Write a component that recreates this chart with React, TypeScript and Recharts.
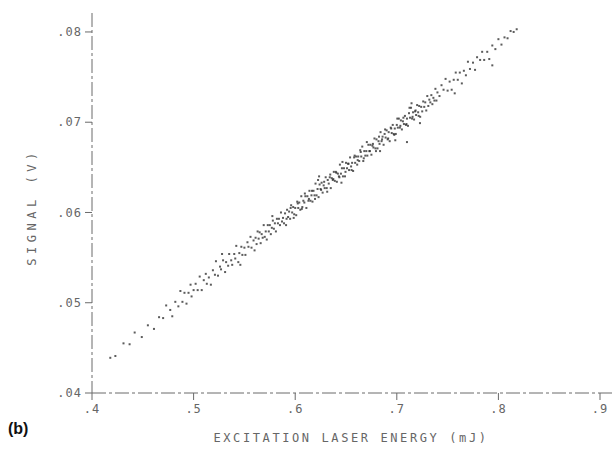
import React from 'react'
import { ScatterChart, Scatter, XAxis, YAxis } from 'recharts'

type Pt = [number, number]

const X_TICKS = [0.4, 0.5, 0.6, 0.7, 0.8, 0.9]
const Y_TICKS = [0.04, 0.05, 0.06, 0.07, 0.08]

// lower tail, energy below .50 mJ
const lowTail: Pt[] = [
  [0.418, 0.0439], [0.423, 0.0441], [0.431, 0.0455], [0.437, 0.0454], [0.442, 0.0467],
  [0.449, 0.0462], [0.455, 0.0475], [0.461, 0.0471], [0.466, 0.0484], [0.470, 0.0483],
  [0.473, 0.0497], [0.477, 0.0492], [0.479, 0.0485], [0.482, 0.0501], [0.485, 0.0496],
  [0.487, 0.0513], [0.489, 0.0501], [0.491, 0.0511], [0.493, 0.0499], [0.495, 0.0511],
  [0.497, 0.0520], [0.498, 0.0507], [0.500, 0.0514],
]

const lowerBand: Pt[] = [
  [0.502, 0.0521], [0.504, 0.0514], [0.506, 0.0529], [0.508, 0.0514], [0.510, 0.0525],
  [0.512, 0.0532], [0.513, 0.0521], [0.515, 0.0528], [0.517, 0.0520], [0.519, 0.0536],
  [0.521, 0.0531], [0.522, 0.0546], [0.524, 0.0530], [0.526, 0.0540], [0.527, 0.0537],
  [0.529, 0.0547], [0.531, 0.0534], [0.532, 0.0545], [0.534, 0.0541], [0.535, 0.0554],
  [0.537, 0.0547], [0.538, 0.0542], [0.540, 0.0554], [0.541, 0.0549], [0.542, 0.0563],
  [0.544, 0.0545], [0.545, 0.0555], [0.547, 0.0562], [0.548, 0.0553], [0.550, 0.0561],
  [0.551, 0.0553], [0.553, 0.0567], [0.554, 0.0562], [0.556, 0.0573], [0.557, 0.0561],
  [0.559, 0.0569], [0.560, 0.0558], [0.546, 0.0542], [0.528, 0.0554],
]

const core: Pt[] = [
  [0.561, 0.0572], [0.562, 0.0565], [0.563, 0.0579], [0.564, 0.0571], [0.565, 0.0578],
  [0.566, 0.0566], [0.567, 0.0576], [0.568, 0.0572], [0.569, 0.0586], [0.570, 0.0573],
  [0.571, 0.0579], [0.572, 0.0570], [0.573, 0.0586], [0.574, 0.0579], [0.575, 0.0586],
  [0.576, 0.0576], [0.577, 0.0583], [0.578, 0.0591], [0.579, 0.0582], [0.580, 0.0588],
  [0.581, 0.0579], [0.582, 0.0593], [0.583, 0.0588], [0.584, 0.0593], [0.585, 0.0586],
  [0.586, 0.0600], [0.587, 0.0590], [0.588, 0.0594], [0.589, 0.0588], [0.590, 0.0599],
  [0.591, 0.0586], [0.592, 0.0603], [0.593, 0.0595], [0.594, 0.0601], [0.595, 0.0593],
  [0.596, 0.0608], [0.597, 0.0600], [0.598, 0.0606], [0.599, 0.0598], [0.600, 0.0605],
  [0.601, 0.0597], [0.602, 0.0612], [0.603, 0.0605], [0.604, 0.0611], [0.605, 0.0603],
  [0.606, 0.0618], [0.607, 0.0606], [0.608, 0.0613], [0.609, 0.0611], [0.610, 0.0618],
  [0.611, 0.0605], [0.612, 0.0618], [0.613, 0.0613], [0.614, 0.0624], [0.615, 0.0613],
  [0.616, 0.0619], [0.617, 0.0612], [0.618, 0.0624], [0.619, 0.0619], [0.620, 0.0632],
  [0.621, 0.0619], [0.622, 0.0626], [0.623, 0.0617], [0.624, 0.0631], [0.625, 0.0626],
  [0.626, 0.0633], [0.627, 0.0622], [0.628, 0.0630], [0.629, 0.0627], [0.630, 0.0639],
  [0.631, 0.0627], [0.632, 0.0636], [0.633, 0.0632], [0.634, 0.0639], [0.635, 0.0627],
  [0.636, 0.0638], [0.637, 0.0636], [0.638, 0.0645], [0.639, 0.0635], [0.640, 0.0645],
  [0.641, 0.0634], [0.642, 0.0643], [0.643, 0.0640], [0.644, 0.0653], [0.645, 0.0643],
  [0.646, 0.0649], [0.647, 0.0640], [0.648, 0.0649], [0.649, 0.0640], [0.650, 0.0655],
  [0.651, 0.0649], [0.652, 0.0654], [0.653, 0.0647], [0.654, 0.0661], [0.655, 0.0651],
  [0.656, 0.0655], [0.657, 0.0646], [0.658, 0.0661], [0.659, 0.0655], [0.660, 0.0662],
  [0.661, 0.0653], [0.662, 0.0662], [0.663, 0.0657], [0.664, 0.0669], [0.665, 0.0662],
  [0.666, 0.0673], [0.667, 0.0657], [0.668, 0.0668], [0.669, 0.0663], [0.670, 0.0668],
  [0.671, 0.0663], [0.672, 0.0675], [0.673, 0.0668], [0.674, 0.0675], [0.675, 0.0664],
  [0.676, 0.0674], [0.677, 0.0672], [0.678, 0.0682], [0.679, 0.0671], [0.680, 0.0681],
  [0.681, 0.0671], [0.682, 0.0679], [0.683, 0.0676], [0.684, 0.0689], [0.685, 0.0679],
  [0.686, 0.0684], [0.687, 0.0675], [0.688, 0.0687], [0.689, 0.0683], [0.690, 0.0691],
  [0.691, 0.0681], [0.692, 0.0689], [0.693, 0.0679], [0.694, 0.0694], [0.695, 0.0688],
  [0.696, 0.0697], [0.697, 0.0687], [0.698, 0.0693], [0.699, 0.0687], [0.700, 0.0697],
  [0.701, 0.0694], [0.702, 0.0704], [0.703, 0.0694], [0.704, 0.0702], [0.705, 0.0692],
  [0.706, 0.0701], [0.707, 0.0698], [0.708, 0.0707], [0.709, 0.0697], [0.710, 0.0704],
  [0.711, 0.0696], [0.712, 0.0710], [0.713, 0.0705], [0.714, 0.0716], [0.715, 0.0704],
  [0.716, 0.0711], [0.717, 0.0703], [0.718, 0.0712], [0.719, 0.0708], [0.720, 0.0719],
  [0.721, 0.0711], [0.722, 0.0718], [0.723, 0.0706], [0.724, 0.0717], [0.725, 0.0712],
  [0.726, 0.0723], [0.727, 0.0717], [0.728, 0.0722], [0.729, 0.0713], [0.730, 0.0729],
  [0.731, 0.0718], [0.732, 0.0725], [0.733, 0.0722], [0.734, 0.0730], [0.735, 0.0720],
  [0.736, 0.0727], [0.737, 0.0724], [0.738, 0.0737], [0.739, 0.0724], [0.740, 0.0733],
]

// extra readings in the densest part of the cloud
const coreExtra: Pt[] = [
  [0.5915, 0.0593], [0.5955, 0.0605], [0.5985, 0.0594], [0.6025, 0.0610], [0.6065, 0.0604],
  [0.6095, 0.0621], [0.6135, 0.0615], [0.6165, 0.0624], [0.6195, 0.0615], [0.6225, 0.0636],
  [0.6255, 0.0625], [0.6285, 0.0634], [0.6315, 0.0623], [0.6345, 0.0642], [0.6375, 0.0637],
  [0.6405, 0.0644], [0.6435, 0.0639], [0.6465, 0.0656], [0.6495, 0.0645], [0.6525, 0.0654],
  [0.6555, 0.0647], [0.6585, 0.0663], [0.6615, 0.0658], [0.6645, 0.0667], [0.6675, 0.0660],
  [0.6705, 0.0678], [0.6735, 0.0668], [0.6765, 0.0676], [0.6795, 0.0668], [0.6825, 0.0684],
  [0.6855, 0.0681], [0.6885, 0.0692], [0.6915, 0.0682], [0.6945, 0.0693], [0.6975, 0.0686],
  [0.7005, 0.0704], [0.7035, 0.0696], [0.7065, 0.0705], [0.7095, 0.0698], [0.7125, 0.0716],
  [0.7155, 0.0706], [0.7185, 0.0713], [0.7215, 0.0707], [0.5775, 0.0596], [0.6455, 0.0633],
  [0.6835, 0.0668], [0.7145, 0.0721], [0.6235, 0.0640], [0.6985, 0.0680], [0.710, 0.0678],
  [0.7228, 0.0699],
]

const topTail: Pt[] = [
  [0.742, 0.0729], [0.744, 0.0741], [0.746, 0.0736], [0.748, 0.0748], [0.750, 0.0735],
  [0.752, 0.0745], [0.754, 0.0736], [0.756, 0.0747], [0.758, 0.0755], [0.760, 0.0747],
  [0.762, 0.0755], [0.764, 0.0743], [0.766, 0.0757], [0.768, 0.0752], [0.770, 0.0767],
  [0.772, 0.0759], [0.775, 0.0766], [0.777, 0.0758], [0.779, 0.0772], [0.782, 0.0769],
  [0.784, 0.0778], [0.786, 0.0769], [0.789, 0.0778], [0.791, 0.0770], [0.794, 0.0785],
  [0.797, 0.0781], [0.800, 0.0792], [0.803, 0.0786], [0.806, 0.0794], [0.809, 0.0793],
  [0.812, 0.0801], [0.815, 0.0800], [0.818, 0.0803], [0.757, 0.0732], [0.794, 0.0763],
]

const points = [...lowTail, ...lowerBand, ...core, ...coreExtra, ...topTail].map(([x, y]) => ({ x, y }))

const INK = '#6a6a6a'
const MONO = '"DejaVu Sans Mono", monospace'

const Speck = (props: any) => {
  const { cx, cy } = props
  if (cx == null || cy == null) return null
  return <rect x={cx - 1} y={cy - 1} width={2} height={2} fill="#333" fillOpacity={0.8} />
}

export default function App() {
  return (
    <div style={{ position: 'absolute', left: 0, top: 0, width: 612, height: 454, background: '#fff' }}>
      <ScatterChart width={612} height={454} margin={{ top: 13, right: 0, bottom: 31, left: 32 }}>
        <XAxis
          type="number"
          dataKey="x"
          domain={[0.4, 0.9118]}
          ticks={X_TICKS}
          tickFormatter={(v: number) => v.toFixed(1).slice(1)}
          height={30}
          axisLine={{ stroke: INK, strokeDasharray: '14 3 3 3' }}
          tickLine={{ stroke: INK }}
          tickSize={7}
          tickMargin={4}
          tick={{ fill: '#666', fontSize: 12, fontFamily: MONO, letterSpacing: 1 }}
          allowDataOverflow
        />
        <YAxis
          type="number"
          dataKey="y"
          domain={[0.04, 0.0821]}
          ticks={Y_TICKS}
          tickFormatter={(v: number) => v.toFixed(2).slice(1)}
          width={60}
          axisLine={{ stroke: INK, strokeDasharray: '14 3 3 3' }}
          tickLine={{ stroke: INK }}
          tickSize={7}
          tickMargin={3}
          tick={{ fill: '#666', fontSize: 12, fontFamily: MONO, letterSpacing: 1 }}
          allowDataOverflow
        />
        <Scatter data={points} shape={Speck} isAnimationActive={false} />
      </ScatterChart>
      <div
        style={{
          position: 'absolute', left: 32, top: 207, transform: 'translate(-50%, -50%) rotate(-90deg)',
          fontFamily: MONO, fontSize: 12, letterSpacing: 4.5, color: '#666', whiteSpace: 'nowrap',
        }}
      >
        SIGNAL (V)
      </div>
      <div
        style={{
          position: 'absolute', left: 351, top: 438, transform: 'translate(-50%, -50%)',
          fontFamily: MONO, fontSize: 12, letterSpacing: 2.6, color: '#666', whiteSpace: 'nowrap',
        }}
      >
        EXCITATION LASER ENERGY (mJ)
      </div>
      <div
        style={{
          position: 'absolute', left: 8, top: 420, fontFamily: '"Liberation Sans", Arial, sans-serif',
          fontSize: 16, fontWeight: 'bold', color: '#111',
        }}
      >
        (b)
      </div>
    </div>
  )
}
